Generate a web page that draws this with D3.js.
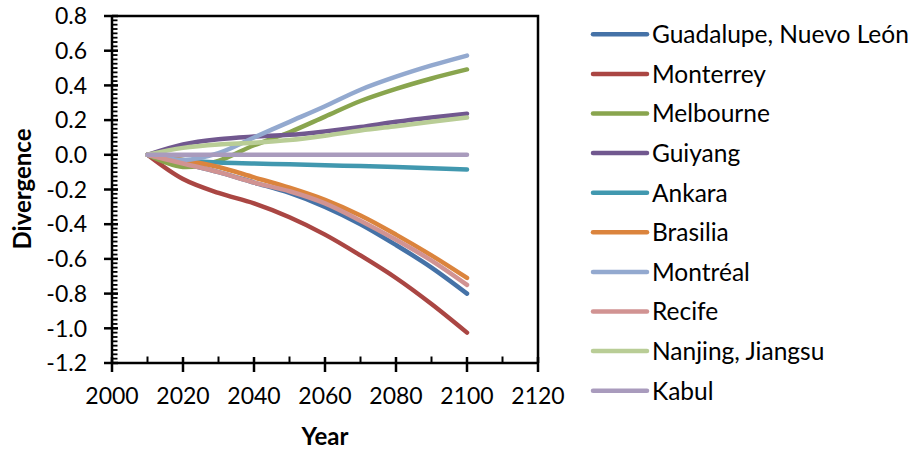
<!DOCTYPE html>
<html><head><meta charset="utf-8">
<script src="https://cdn.jsdelivr.net/npm/d3@7"></script>
<style>body{margin:0;background:#fff;} svg{display:block;font-family:Lato,"Open Sans",sans-serif;}</style>
</head><body><svg id="c" width="913" height="455"></svg>
<script>
const years = [2010,2020,2030,2040,2050,2060,2070,2080,2090,2100];
const seriesNames = ["Guadalupe, Nuevo León","Monterrey","Melbourne","Guiyang","Ankara","Brasilia","Montréal","Recife","Nanjing, Jiangsu","Kabul"];
const guadalupe = [0,-0.05,-0.10,-0.16,-0.22,-0.30,-0.40,-0.52,-0.65,-0.80];
const monterrey = [0,-0.14,-0.22,-0.28,-0.36,-0.46,-0.58,-0.71,-0.86,-1.025];
const melbourne = [0,-0.07,-0.035,0.055,0.13,0.22,0.31,0.38,0.44,0.492];
const guiyang   = [0,0.06,0.09,0.105,0.115,0.135,0.16,0.19,0.215,0.237];
const ankara    = [0,-0.03,-0.045,-0.05,-0.055,-0.06,-0.065,-0.07,-0.077,-0.085];
const brasilia  = [0,-0.03,-0.07,-0.13,-0.19,-0.26,-0.35,-0.46,-0.58,-0.71];
const montreal  = [0,-0.03,0.01,0.10,0.19,0.28,0.375,0.45,0.515,0.572];
const recife    = [0,-0.05,-0.10,-0.16,-0.21,-0.28,-0.38,-0.49,-0.61,-0.75];
const nanjing   = [0,0.04,0.06,0.07,0.085,0.11,0.14,0.165,0.19,0.215];
const kabul     = [0,0,0,0,0,0,0,0,0,0];
const seriesValues = [guadalupe,monterrey,melbourne,guiyang,ankara,brasilia,montreal,recife,nanjing,kabul];
const colors = ["#4572A7","#AA4643","#89A54E","#71588F","#4198AF","#DB843D","#93A9CF","#D19392","#B9CD96","#A99BBD"];
const xTicks = [2000,2020,2040,2060,2080,2100,2120];
const yTicks = [0.8,0.6,0.4,0.2,0.0,-0.2,-0.4,-0.6,-0.8,-1.0,-1.2];

const svg = d3.select("#c");
const L=112, R=538, T=16, B=363;
const x = d3.scaleLinear().domain([2000,2120]).range([L,R]);
const y = d3.scaleLinear().domain([-1.2,0.8]).range([B,T]);

// lines
const line = d3.line().x((d,i)=>x(years[i])).y(d=>y(d)).curve(d3.curveCatmullRom.alpha(0.5));
seriesValues.forEach((vals,k)=>{
  svg.append("path").attr("d",line(vals)).attr("fill","none")
    .attr("stroke",colors[k]).attr("stroke-width",4.5).attr("stroke-linecap","round").attr("stroke-linejoin","round");
});

// border top/right
svg.append("path").attr("d",`M${L},${T}H${R}V${B}`).attr("fill","none").attr("stroke","#000").attr("stroke-width",2.5);

// y axis
const yMinor = d3.range(-1.2,0.8001,0.025);
const gy = svg.append("g");
gy.selectAll("line.mi").data(yMinor).join("line").attr("x1",L).attr("x2",L+5.5)
  .attr("y1",d=>y(d)).attr("y2",d=>y(d)).attr("stroke","#000").attr("stroke-width",1.8);
gy.selectAll("line.ma").data(yTicks).join("line").attr("x1",L-8).attr("x2",L+6)
  .attr("y1",d=>y(d)).attr("y2",d=>y(d)).attr("stroke","#000").attr("stroke-width",2.5);
gy.selectAll("text").data(yTicks).join("text").attr("x",87).attr("y",d=>y(d)).attr("dy","0.36em")
  .attr("text-anchor","end").attr("font-size",23).text(d=>d3.format(".1f")(d).replace("−","-"));
svg.append("line").attr("x1",L).attr("x2",L).attr("y1",T-1).attr("y2",B+1).attr("stroke","#000").attr("stroke-width",2.5);

// x axis
const xMinor = d3.range(2010,2120,20);
const gx = svg.append("g");
gx.selectAll("line.mi").data(xMinor).join("line").attr("y1",B).attr("y2",B-6.5)
  .attr("x1",d=>x(d)).attr("x2",d=>x(d)).attr("stroke","#000").attr("stroke-width",2);
gx.selectAll("line.ma").data(xTicks).join("line").attr("y1",B-6).attr("y2",B+9)
  .attr("x1",d=>x(d)).attr("x2",d=>x(d)).attr("stroke","#000").attr("stroke-width",2.5);
gx.selectAll("text").data(xTicks).join("text").attr("x",d=>x(d)).attr("y",404)
  .attr("text-anchor","middle").attr("font-size",23).text(d=>d);
svg.append("line").attr("x1",L-1).attr("x2",R+1).attr("y1",B).attr("y2",B).attr("stroke","#000").attr("stroke-width",2.5);

// axis titles
svg.append("text").attr("x",325).attr("y",445).attr("text-anchor","middle").attr("font-size",24).attr("font-weight","bold").text("Year");
svg.append("text").attr("transform","translate(31,189) rotate(-90)").attr("text-anchor","middle").attr("font-size",24).attr("font-weight","bold").text("Divergence");

// legend
const lg = svg.append("g");
seriesNames.forEach((n,k)=>{
  const cy = 34.3 + k*39.6;
  lg.append("line").attr("x1",593).attr("x2",647).attr("y1",cy).attr("y2",cy)
    .attr("stroke",colors[k]).attr("stroke-width",4.5).attr("stroke-linecap","round");
  lg.append("text").attr("x",652).attr("y",cy).attr("dy","0.36em").attr("font-size",24.5).text(n);
});
</script></body></html>
